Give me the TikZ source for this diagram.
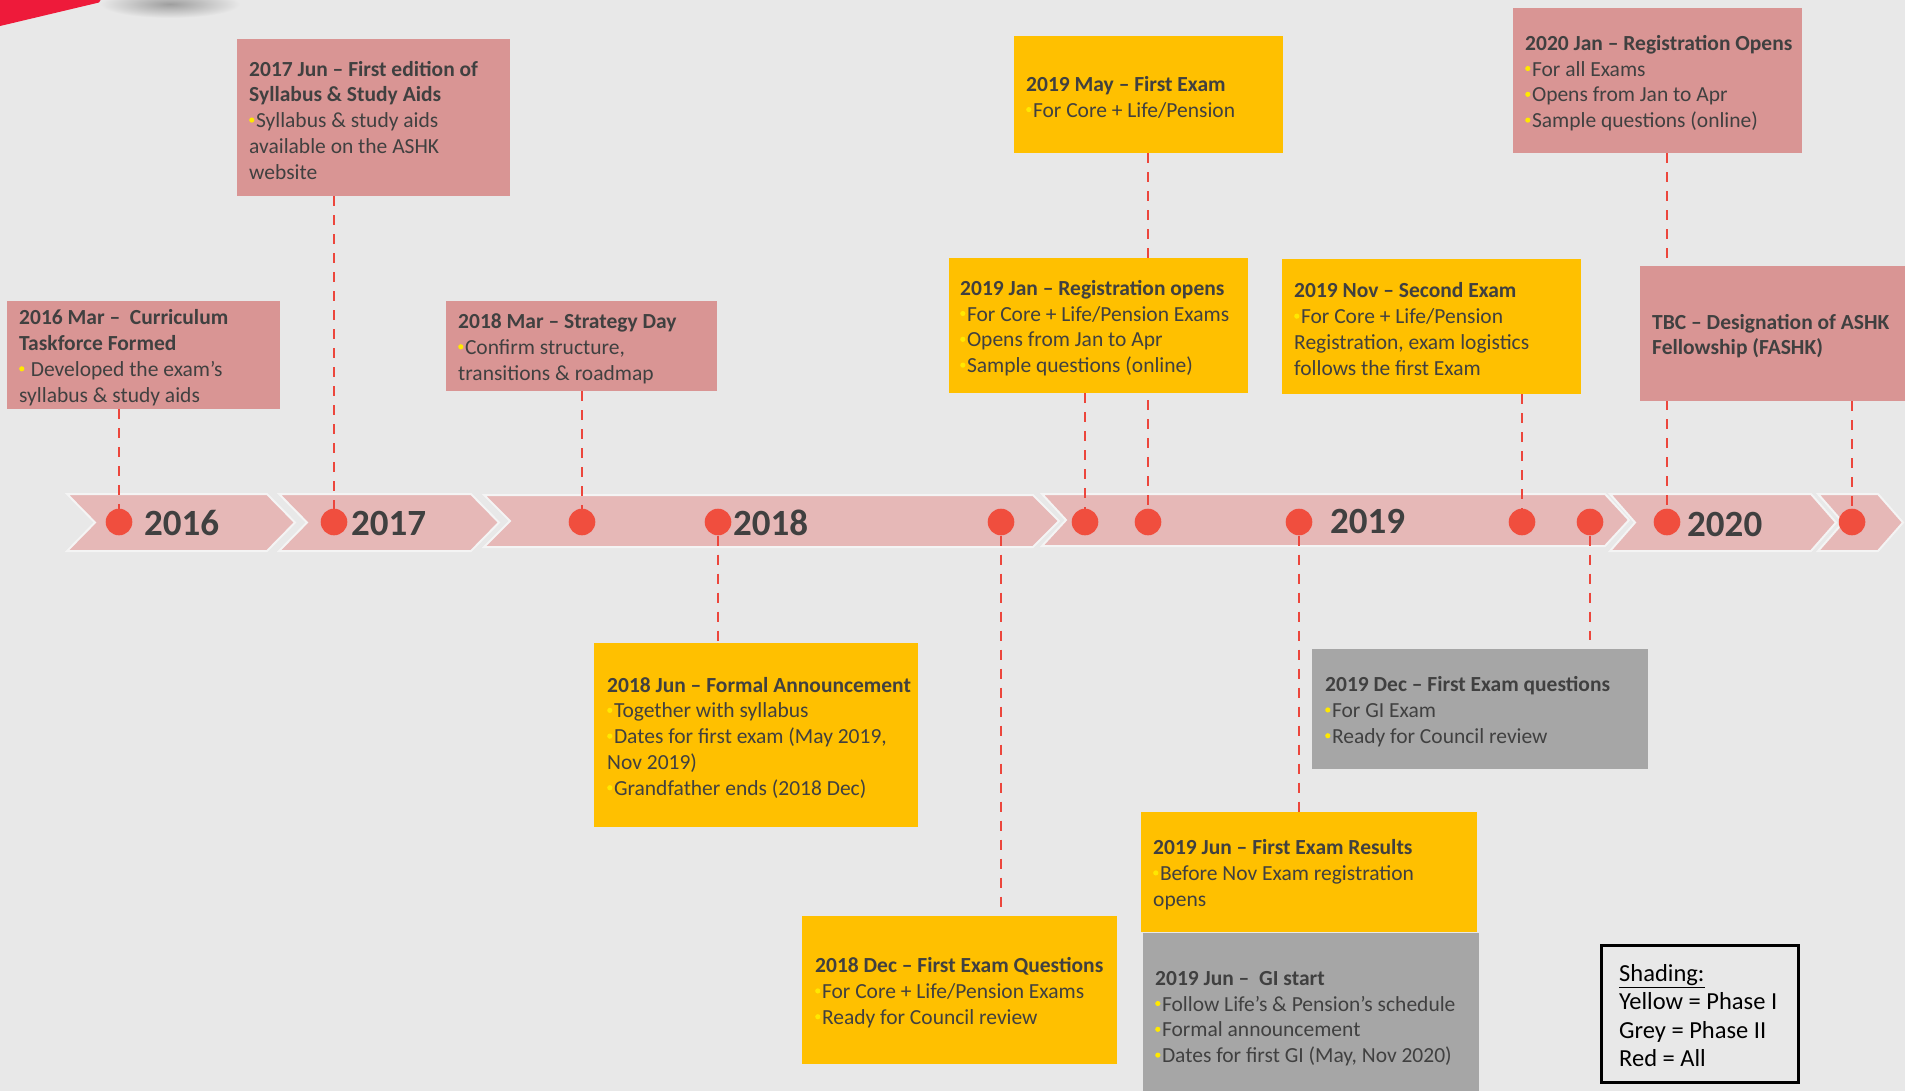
\documentclass[tikz,border=0pt]{standalone}
\usepackage{fontspec}
\setmainfont{Carlito}
\definecolor{bg}{HTML}{E8E8E8}
\definecolor{chev}{HTML}{E6B8B7}
\definecolor{chevedge}{HTML}{F4F4F4}
\definecolor{redbox}{HTML}{D99594}
\definecolor{yelbox}{HTML}{FFC000}
\definecolor{greybox}{HTML}{A6A6A6}
\definecolor{dotred}{HTML}{F04E3E}
\definecolor{dashred}{HTML}{EC463C}
\definecolor{txt}{HTML}{404040}
\definecolor{ybul}{HTML}{FFE800}
\definecolor{swoosh}{HTML}{EE1A3A}

% small yellow bullet in front of list items
\newcommand\yb{\tikz[x=1pt,y=1pt,baseline=0pt]\fill[ybul] (2.6,7.6) circle (2.6);\hspace{1.6pt}}

\pgfdeclarelayer{back}
\pgfdeclarelayer{leaders}
\pgfsetlayers{back,leaders,main}

\tikzset{
  panel/.style={rectangle, anchor=north west, inner sep=0pt},
  redpanel/.style={panel, fill=redbox},
  yelpanel/.style={panel, fill=yelbox},
  greypanel/.style={panel, fill=greybox},
  paneltext/.style={anchor=west, inner sep=0pt, align=left, text=txt, yshift=-2.5pt,
    font=\fontsize{21.5}{25.8}\selectfont},
  yeardot/.style={circle, fill=dotred, minimum size=26.6pt, inner sep=0pt},
  leader/.style={draw=dashred, line width=2.7pt, dash pattern=on 10pt off 9pt},
  chevron/.style={fill=chev, draw=chevedge, line width=2pt, line join=miter},
  yearlabel/.style={anchor=base west, inner sep=0pt, text=txt,
    font=\bfseries\fontsize{37}{37}\selectfont},
}

\begin{document}
\begin{tikzpicture}[x=1pt,y=-1pt]
\useasboundingbox (0,0) rectangle (1905,1091);
\clip (0,0) rectangle (1905,1091);

\begin{pgfonlayer}{back}
  \fill[bg] (0,0) rectangle (1905,1091);
  % corner accent and its soft shadow
  \shade[inner color=black!38, outer color=bg] (170,4) ellipse (70 and 14);
  \fill[swoosh] (-2,-2) -- (102,-2) -- (99,2.5) -- (-2,26.5) -- cycle;
  % timeline band
  \path[chevron] (67,494) -- (267,494) -- (295,522.5) -- (267,551) -- (67,551) -- (95,522.5) -- cycle;
  \path[chevron] (279,494) -- (471,494) -- (499,522.5) -- (471,551) -- (279,551) -- (307,522.5) -- cycle;
  \path[chevron] (484,495) -- (1033,495) -- (1059,521) -- (1033,547) -- (484,547) -- (510,521) -- cycle;
  \path[chevron] (1042,494) -- (1605,494) -- (1629,520) -- (1605,546) -- (1042,546) -- (1066,520) -- cycle;
  \path[chevron] (1610,494) -- (1811,494) -- (1836,522.5) -- (1811,551) -- (1610,551) -- (1635,522.5) -- cycle;
  \path[chevron] (1818,494) -- (1878,494) -- (1903,522.5) -- (1878,551) -- (1818,551) -- (1843,522.5) -- cycle;
\end{pgfonlayer}

% milestones on the band
\node[yeardot] (d16)  at (119,522)  {};
\node[yeardot] (d17)  at (334,522)  {};
\node[yeardot] (d18a) at (582,522)  {};
\node[yeardot] (d18b) at (718,522)  {};
\node[yeardot] (d18c) at (1001,522) {};
\node[yeardot] (d19a) at (1085,522) {};
\node[yeardot] (d19b) at (1148,522) {};
\node[yeardot] (d19c) at (1299,522) {};
\node[yeardot] (d19d) at (1522,522) {};
\node[yeardot] (d19e) at (1590,522) {};
\node[yeardot] (d20a) at (1667,522) {};
\node[yeardot] (d20b) at (1852,522) {};

\node[yearlabel] (y16) at (144,535)  {2016};
\node[yearlabel] (y17) at (351,535)  {2017};
\node[yearlabel] (y18) at (733,535)  {2018};
\node[yearlabel] (y19) at (1330,533) {2019};
\node[yearlabel] (y20) at (1687,536) {2020};

% event panels above the band
\node[redpanel, minimum width=273pt, minimum height=108pt] (mar16) at (7,301) {};
\node[paneltext] (mar16t) at ([xshift=12pt]mar16.west)
  {\textbf{2016 Mar –\ \ Curriculum}\\\textbf{Taskforce Formed}\\\yb\ Developed the exam’s\\syllabus \& study aids};

\node[redpanel, minimum width=273pt, minimum height=157pt] (jun17) at (237,39) {};
\node[paneltext] (jun17t) at ([xshift=12pt]jun17.west)
  {\textbf{2017 Jun – First edition of}\\\textbf{Syllabus \& Study Aids}\\\yb Syllabus \& study aids\\available on the ASHK\\website};

\node[redpanel, minimum width=271pt, minimum height=90pt] (mar18) at (446,301) {};
\node[paneltext] (mar18t) at ([xshift=12pt]mar18.west)
  {\textbf{2018 Mar – Strategy Day}\\\yb Confirm structure,\\transitions \& roadmap};

\node[yelpanel, minimum width=269pt, minimum height=117pt] (may19) at (1014,36) {};
\node[paneltext] (may19t) at ([xshift=12pt]may19.west)
  {\textbf{2019 May – First Exam}\\\yb For Core + Life/Pension};

\node[yelpanel, minimum width=299pt, minimum height=135pt] (jan19) at (949,258) {};
\node[paneltext] (jan19t) at ([xshift=11pt]jan19.west)
  {\textbf{2019 Jan – Registration opens}\\\yb For Core + Life/Pension Exams\\\yb Opens from Jan to Apr\\\yb Sample questions (online)};

\node[yelpanel, minimum width=299pt, minimum height=135pt] (nov19) at (1282,259) {};
\node[paneltext] (nov19t) at ([xshift=12pt]nov19.west)
  {\textbf{2019 Nov – Second Exam}\\\yb For Core + Life/Pension\\Registration, exam logistics\\follows the first Exam};

\node[redpanel, minimum width=289pt, minimum height=145pt] (jan20) at (1513,8) {};
\node[paneltext] (jan20t) at ([xshift=12pt]jan20.west)
  {\textbf{2020 Jan – Registration Opens}\\\yb For all Exams\\\yb Opens from Jan to Apr\\\yb Sample questions (online)};

\node[redpanel, minimum width=266pt, minimum height=135pt] (tbc) at (1640,266) {};
\node[paneltext] (tbct) at ([xshift=12pt]tbc.west)
  {\textbf{TBC – Designation of ASHK}\\\textbf{Fellowship (FASHK)}};

% event panels below the band
\node[yelpanel, minimum width=324pt, minimum height=184pt] (jun18) at (594,643) {};
\node[paneltext] (jun18t) at ([xshift=13pt]jun18.west)
  {\textbf{2018 Jun – Formal Announcement}\\\yb Together with syllabus\\\yb Dates for first exam (May 2019,\\Nov 2019)\\\yb Grandfather ends (2018 Dec)};

\node[yelpanel, minimum width=315pt, minimum height=148pt] (dec18) at (802,916) {};
\node[paneltext] (dec18t) at ([xshift=13pt]dec18.west)
  {\textbf{2018 Dec – First Exam Questions}\\\yb For Core + Life/Pension Exams\\\yb Ready for Council review};

\node[greypanel, minimum width=336pt, minimum height=120pt] (dec19) at (1312,649) {};
\node[paneltext] (dec19t) at ([xshift=13pt]dec19.west)
  {\textbf{2019 Dec – First Exam questions}\\\yb For GI Exam\\\yb Ready for Council review};

\node[yelpanel, minimum width=336pt, minimum height=120pt] (jun19r) at (1141,812) {};
\node[paneltext] (jun19rt) at ([xshift=12pt]jun19r.west)
  {\textbf{2019 Jun – First Exam Results}\\\yb Before Nov Exam registration\\opens};

\node[greypanel, minimum width=336pt, minimum height=166pt] (jun19g) at (1143,933) {};
\node[paneltext] (jun19gt) at ([xshift=12pt]jun19g.west)
  {\textbf{2019 Jun –\ \ GI start}\\\yb Follow Life’s \& Pension’s schedule\\\yb Formal announcement\\\yb Dates for first GI (May, Nov 2020)};

% colour key
\node[draw=black, line width=2.5pt, anchor=north west, minimum width=197pt,
      minimum height=137pt, inner sep=0pt] (key) at (1600,944) {};
\node[anchor=west, inner sep=0pt, align=left, text=black, yshift=-2pt,
      font=\fontsize{24.5}{28.4}\selectfont] (keyt) at ([xshift=19pt]key.west)
  {\underline{Shading:}\\Yellow = Phase I\\Grey = Phase II\\Red = All};

% dashed leaders from panels to milestones
\begin{pgfonlayer}{leaders}
  \draw[leader] (mar16.south -| d16)  -- (d16);
  \draw[leader] (jun17.south -| d17)  -- (d17);
  \draw[leader] (mar18.south -| d18a) -- (d18a);
  \draw[leader] (d18b) -- (jun18.north -| d18b);
  \draw[leader, shorten >=8pt] (d18c) -- (dec18.north -| d18c);
  \draw[leader] (jan19.south -| d19a) -- (d19a);
  \draw[leader] (may19.south -| d19b) -- (d19b);
  \draw[leader] (d19c) -- (jun19r.north -| d19c);
  \draw[leader] (nov19.south -| d19d) -- (d19d);
  \draw[leader, shorten >=9pt] (d19e) -- (dec19.north -| d19e);
  \draw[leader] (jan20.south -| d20a) -- (d20a);
  \draw[leader] (tbc.south -| d20b)   -- (d20b);
\end{pgfonlayer}
\end{tikzpicture}
\end{document}
